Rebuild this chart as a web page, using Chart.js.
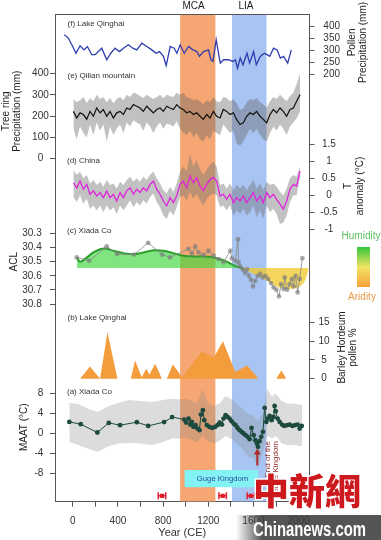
<!DOCTYPE html>
<html>
<head>
<meta charset="utf-8">
<title>Climate records</title>
<script src="https://cdn.jsdelivr.net/npm/chart.js@4.4.0/dist/chart.umd.min.js"></script>
<style>
html,body{margin:0;padding:0;background:#ffffff;overflow:hidden;}
canvas{display:block;}
</style>
</head>
<body>
<canvas id="chart" width="381" height="540"></canvas>
<script>
// ---------------- data ----------------
const mcaSpan = [950, 1265];
const liaSpan = [1410, 1717];

// (f) Lake Qinghai pollen precipitation (mm)
const pollenYears = [-74,-39,0,29,65,100,130,168,198,227,257,301,337,375,413,449,493,532,567,612,656,700,738,768,803,827,863,898,922,951,987,1025,1064,1099,1122,1158,1202,1223,1241,1270,1306,1335,1379,1418,1439,1459,1483,1507,1543,1566,1601,1625,1660,1696,1720,1743,1778,1809,1838,1867,1903,1935];
const pollenPrecip = [366,352,317,289,320,303,317,283,283,296,310,262,289,310,296,310,324,310,303,331,317,303,289,296,276,238,317,310,289,324,289,317,303,296,276,296,303,262,255,345,248,262,262,255,262,227,269,241,289,248,296,241,276,289,283,276,310,303,269,276,248,303];

// shared year grid for (e) and (d)
const recordYears = [6,35,65,94,124,153,183,212,242,271,301,330,360,389,419,448,478,507,537,566,596,625,655,684,714,743,773,802,832,861,891,920,950,979,1009,1038,1068,1097,1127,1156,1186,1215,1245,1274,1304,1333,1363,1392,1422,1451,1481,1510,1540,1569,1599,1628,1658,1687,1717,1746,1776,1805,1835,1864,1894,1923,1953,1982,2012];

// (e) Qilian mountain tree-ring precipitation (mm)
const treePrecip = [222,191,215,207,185,222,199,238,215,231,199,222,191,215,222,207,238,231,254,246,238,222,246,231,215,231,238,222,246,238,231,254,238,231,215,222,207,215,199,184,207,191,222,199,191,231,222,207,215,184,160,168,199,215,207,222,199,184,168,207,231,215,238,222,199,231,238,270,301];
const treeUpper = [280,265,275,290,260,285,270,300,280,290,265,285,260,280,290,275,300,290,310,305,295,285,300,290,280,290,300,285,300,295,290,310,300,310,290,285,275,280,270,255,275,265,290,270,265,290,285,270,280,260,230,235,265,280,275,285,265,255,240,270,290,280,300,285,270,295,310,350,400];
const treeLower = [140,90,150,120,100,160,110,170,130,160,80,150,110,140,160,120,170,150,180,170,160,130,170,150,120,150,170,140,165,160,150,175,140,120,110,130,100,120,90,80,110,90,130,120,110,160,140,120,130,70,60,80,110,140,120,140,110,90,80,120,150,130,160,140,110,150,170,190,220];

// (d) China temperature anomaly (°C)
const chinaTemp = [0.37,0.22,0.42,0.18,0.32,0.03,0.13,-0.02,0.08,-0.07,0.13,-0.07,0.03,-0.17,0.08,-0.07,0.13,0.22,0.03,0.18,0.08,0.22,0.13,0.32,0.42,0.18,0.03,-0.17,-0.31,-0.07,-0.22,-0.02,0.32,0.42,0.22,0.57,0.37,0.52,0.27,0.13,0.32,0.47,0.52,0.42,-0.02,0.03,-0.12,0.03,-0.22,-0.07,-0.17,-0.02,-0.22,-0.07,0.08,-0.17,-0.02,-0.22,0.08,-0.07,0.03,-0.12,-0.26,-0.41,-0.17,0.18,0.32,0.27,0.71];
const chinaUpper = [0.75,0.6,0.7,0.5,0.6,0.35,0.45,0.3,0.4,0.25,0.45,0.3,0.35,0.2,0.4,0.3,0.45,0.55,0.4,0.5,0.4,0.55,0.45,0.6,0.7,0.5,0.35,0.15,0.05,0.25,0.1,0.35,0.7,0.85,0.7,1.2,0.85,1.05,0.75,0.6,0.75,0.9,1.0,0.85,0.3,0.35,0.2,0.35,0.15,0.3,0.2,0.3,0.15,0.3,0.45,0.2,0.35,0.15,0.4,0.3,0.35,0.25,0.1,0.0,0.2,0.5,0.6,0.55,0.85];
const chinaLower = [-0.05,-0.2,0.0,-0.25,-0.1,-0.4,-0.3,-0.45,-0.3,-0.5,-0.3,-0.45,-0.35,-0.55,-0.3,-0.45,-0.3,-0.15,-0.35,-0.2,-0.3,-0.15,-0.25,-0.05,0.05,-0.2,-0.35,-0.6,-0.7,-0.45,-0.6,-0.35,-0.05,0.0,-0.15,0.1,-0.1,0.05,-0.15,-0.3,-0.1,0.0,0.05,0.0,-0.35,-0.3,-0.45,-0.3,-0.6,-0.45,-0.55,-0.4,-0.6,-0.5,-0.3,-0.65,-0.45,-0.7,-0.3,-0.5,-0.4,-0.55,-0.85,-0.8,-0.6,-0.2,0.0,0.0,0.55];

// (c) Xiada Co ACL
const aclYears = [35,145,300,393,543,668,792,862,1025,1055,1084,1114,1158,1202,1247,1291,1335,1395,1409,1439,1463,1468,1483,1507,1527,1543,1560,1578,1596,1616,1637,1660,1681,1705,1729,1755,1778,1802,1826,1844,1867,1876,1897,1920,1941,1956,1973,1991,2009,2033];
const aclValues = [30.47,30.494,30.393,30.446,30.45,30.367,30.45,30.47,30.41,30.442,30.393,30.435,30.453,30.423,30.458,30.482,30.505,30.423,30.477,30.494,30.341,30.506,30.534,30.557,30.58,30.552,30.6,30.627,30.675,30.635,30.6,30.587,30.611,30.6,30.622,30.651,30.682,30.698,30.745,30.658,30.693,30.611,30.698,30.658,30.622,30.675,30.6,30.717,30.622,30.475];
const aclTrendYears = [35,65,109,183,271,360,449,537,626,715,803,892,980,1069,1158,1247,1335,1424,1512,1601,1720,1838,1956,2044,2089];
const aclTrend = [30.47,30.50,30.48,30.435,30.407,30.423,30.44,30.447,30.435,30.42,30.423,30.44,30.458,30.463,30.463,30.47,30.49,30.524,30.552,30.587,30.634,30.684,30.69,30.65,30.55];
const aclBaseline = 30.545;

// (b) Lake Qinghai Barley Hordeum pollen %
const barleyYears = [65,153,242,307,396,514,552,611,650,679,730,789,833,886,936,966,1143,1247,1330,1439,1543,1645,1802,1847,1891];
const barleyPct = [0,3.26,0,12.35,0,0,4.85,0.4,2.65,1.14,3.97,0,0,3.79,1.76,0.2,7.24,5.56,9.97,1.76,3.53,0,0,2.2,0];

// (a) Xiada Co MAAT (°C)
const maatYears = [-30,71,218,319,419,567,668,809,880,987,1004,1025,1040,1055,1069,1087,1105,1122,1135,1152,1164,1188,1211,1235,1259,1282,1300,1321,1335,1353,1371,1388,1406,1424,1442,1459,1477,1495,1512,1530,1548,1566,1583,1601,1616,1631,1640,1654,1669,1684,1699,1714,1725,1743,1761,1778,1787,1796,1814,1832,1853,1873,1897,1920,1944,1968,1991,2009,2027];
const maatValues = [2.33,1.87,0.2,2.13,1.67,2.27,1.53,2.3,3.3,2.8,2.2,3.0,1.8,2.33,1.33,1.67,1.0,0.67,3.8,4.67,2.67,1.67,1.33,1.13,1.33,1.67,2.2,1.8,3.0,3.67,3.33,3.0,2.47,2.0,1.67,1.13,0.67,0.33,0.0,-0.33,-0.67,-1.13,1.13,-0.33,-1.33,-2.0,-2.67,-1.53,-0.67,0.33,5.13,2.33,3.0,3.53,2.67,3.33,5.53,4.47,3.0,2.33,1.8,1.53,1.67,1.8,1.53,1.67,1.8,1.0,1.53];
const maatEnvYears = [-30,50,130,220,300,400,500,600,700,800,880,950,1000,1050,1100,1150,1200,1250,1300,1350,1400,1450,1500,1550,1600,1640,1680,1720,1760,1800,1850,1900,1950,2000,2030];
const maatUpper = [6.1,5.9,5.0,4.3,5.3,6.1,6.7,6.5,6.3,6.7,7.0,6.8,7.0,6.5,6.0,9.0,6.0,5.5,6.0,7.5,7.0,6.0,5.0,4.0,3.5,2.5,4.0,9.0,7.5,8.0,6.5,6.0,6.0,5.8,5.8];
const maatLower = [-1.7,-2.3,-3.0,-3.7,-2.7,-2.0,-1.9,-2.0,-2.3,-1.7,-1.0,-1.0,-0.8,-1.2,-1.8,-0.5,-1.5,-2.0,-1.5,-0.5,-1.0,-2.0,-3.0,-4.5,-5.0,-6.5,-4.0,-0.5,-1.0,-0.5,-2.0,-2.3,-2.3,-2.5,-2.5];

// dating control points (year, ± error) and events
const ageYears = [790, 1327, 1577];
const ageErr = [33, 33, 33];
const gugeSpan = [988, 1643];
const gugeEndYear = [1634];

// tick labels
const xTicks = [0,200,400,600,800,1000,1200,1400,1600,1800,2000];
const xLabelTicks = [0,400,800,1200,1600,2000];
const pollenTicks = [200,250,300,350,400];
const treeTicks = [0,100,200,300,400];
const tempTicks = [-1,-0.5,0,0.5,1,1.5];
const aclTicks = [30.3,30.4,30.5,30.6,30.7,30.8];
const barleyTicks = [0,5,10,15];
const maatTicks = [-8,-4,0,4,8];

// ---------------- layout / style ----------------
const FONT = "'Liberation Sans', Arial, Helvetica, sans-serif";
Chart.defaults.font.family = FONT;
Chart.defaults.font.size = 10;
Chart.defaults.color = '#333';
const AXIS = '#555';
const X_MIN = -157, X_MAX = 2096;
const LEFT_W = 55, RIGHT_W = 71.5;

const pts = (xs, ys) => xs.map((x, i) => ({ x, y: ys[i] }));
const zeroWidth = s => { s.width = 0; };
const fixTicks = vals => s => { s.ticks = vals.map(v => ({ value: v })); };
const tickMarks = { display: true, drawOnChartArea: false, drawTicks: true, tickLength: 5, color: AXIS };

// value axes: stacked boxes along each side, each box covering one panel band
function valueAxis(position, min, max, ticks, pad, cross, reverse, weight, stackWeight) {
  const w = position === 'left' ? LEFT_W : RIGHT_W;
  return {
    type: 'linear', position, min, max, bounds: 'data', reverse: !!reverse,
    stack: 'vals', stackWeight, weight,
    afterBuildTicks: fixTicks(ticks), afterFit: s => { s.width = w; },
    grid: tickMarks,
    border: { display: true, color: AXIS, width: 1 },
    ticks: { autoSkip: false, padding: pad, crossAlign: cross, color: '#333', font: { size: 10 }, callback: v => String(v) }
  };
}
// title-only axes (zero width) stacked to place each axis title at its panel
function titleAxis(text, weight, stackWeight, padTop) {
  return {
    type: 'linear', position: 'left', display: true, stack: 'titles', stackWeight, weight,
    ticks: { display: false }, grid: { display: false }, border: { display: false },
    title: { display: !!text, text: text || '', color: '#222', font: { size: 10, lineHeight: 1.15 }, padding: { top: padTop, bottom: 0 } },
    afterFit: zeroWidth
  };
}

const bandDs = (span, color) => ({
  data: [{ x: span[0], y: 1 }, { x: span[1], y: 1 }], yAxisID: 'yBand',
  fill: 'start', backgroundColor: color, borderWidth: 0, borderColor: 'rgba(0,0,0,0)', pointRadius: 0, order: 100
});
const envDs = (xs, ys, axis, fill, color) => ({
  data: pts(xs, ys), yAxisID: axis, fill, backgroundColor: color,
  borderWidth: 0, borderColor: 'rgba(0,0,0,0)', pointRadius: 0, order: 50
});

const ageLevel = -12.5;
const errData = [];
ageYears.forEach((a, i) => {
  errData.push({ x: a - ageErr[i], y: ageLevel }, { x: a + ageErr[i], y: ageLevel }, { x: a + ageErr[i] + 1, y: null });
});
const RED = 'rgb(226,30,40)';
const EVENT = 'rgb(170,45,45)';

const datasets = [
  bandDs(mcaSpan, 'rgb(245,166,114)'),
  bandDs(liaSpan, 'rgb(168,196,242)'),
  envDs(recordYears, treeUpper, 'yE', '+1', 'rgba(100,100,100,0.4)'),
  envDs(recordYears, treeLower, 'yE', false, 'rgba(0,0,0,0)'),
  envDs(recordYears, chinaUpper, 'yD', '+1', 'rgba(120,120,120,0.45)'),
  envDs(recordYears, chinaLower, 'yD', false, 'rgba(0,0,0,0)'),
  envDs(maatEnvYears, maatUpper, 'yA', '+1', 'rgba(140,140,140,0.3)'),
  envDs(maatEnvYears, maatLower, 'yA', false, 'rgba(0,0,0,0)'),
  { // ACL smoothed trend: humid (green) / arid (yellow)
    data: pts(aclTrendYears, aclTrend), yAxisID: 'yC', tension: 0.4,
    fill: { target: { value: aclBaseline }, above: 'rgba(60,215,60,0.65)', below: 'rgba(240,200,40,0.75)' },
    borderWidth: 2, borderColor: '#2e9e2e', pointRadius: 0, order: 40,
    segment: { borderColor: c => c.p0.parsed.x < 1430 ? '#2e9e2e' : 'rgba(0,0,0,0)' }
  },
  { // Guge Kingdom period
    data: [{ x: gugeSpan[0], y: -7.3 }, { x: gugeSpan[1], y: -7.3 }], yAxisID: 'yA',
    fill: { target: { value: -10.8 } }, backgroundColor: 'rgb(130,242,242)',
    borderWidth: 0, borderColor: 'rgba(0,0,0,0)', pointRadius: 0, order: 40
  },
  { // barley pollen
    data: pts(barleyYears, barleyPct), yAxisID: 'yB', fill: 'origin', backgroundColor: 'rgb(243,156,60)',
    borderWidth: 0, borderColor: 'rgba(0,0,0,0)', pointRadius: 0, order: 40
  },
  { data: pts(pollenYears, pollenPrecip), yAxisID: 'yF', borderColor: '#2f3db0', borderWidth: 1.3, pointRadius: 0, fill: false, order: 10 },
  { data: pts(recordYears, treePrecip), yAxisID: 'yE', borderColor: '#111', borderWidth: 1.2, pointRadius: 0, fill: false, order: 10 },
  { data: pts(recordYears, chinaTemp), yAxisID: 'yD', borderColor: '#e024dc', borderWidth: 1.3, pointRadius: 0, fill: false, order: 10 },
  { data: pts(aclYears, aclValues), yAxisID: 'yC', borderColor: 'rgba(140,140,140,0.85)', borderWidth: 1,
    pointRadius: 2.4, pointBorderWidth: 0, pointBackgroundColor: 'rgba(125,125,125,0.65)', fill: false, order: 10 },
  { data: pts(maatYears, maatValues), yAxisID: 'yA', borderColor: '#1d4a3f', borderWidth: 1,
    pointRadius: 2.4, pointBorderWidth: 0, pointBackgroundColor: '#1d4a3f', fill: false, order: 10 },
  { data: errData, yAxisID: 'yA', borderColor: RED, borderWidth: 1.5, fill: false, order: 5,
    pointStyle: 'line', rotation: 90, pointRadius: 3.5, pointBorderColor: RED, pointBorderWidth: 1.5 },
  { data: ageYears.map(a => ({ x: a, y: ageLevel })), yAxisID: 'yA', showLine: false, fill: false, order: 5,
    pointStyle: 'rect', pointRadius: 3, pointBorderWidth: 0, pointBackgroundColor: RED },
  { data: [{ x: gugeEndYear[0], y: -6.4 }, { x: gugeEndYear[0], y: -3.8 }], yAxisID: 'yA', fill: false, order: 5,
    borderColor: EVENT, borderWidth: 2, pointStyle: 'triangle', pointRadius: [0, 4], pointBorderWidth: 0, pointBackgroundColor: EVENT }
];

// ---------------- annotations (text) ----------------
const notes = [
  { text: 'MCA', x: 193.5, y: 6.5, size: 10, color: '#222', align: 'center' },
  { text: 'LIA', x: 246, y: 6.5, size: 10, color: '#222', align: 'center' },
  { text: '(f) Lake Qinghai', x: 67.5, y: 23.5, size: 8, color: '#333', align: 'left' },
  { text: '(e) Qilian mountain', x: 67.5, y: 76, size: 8, color: '#333', align: 'left' },
  { text: '(d) China', x: 67, y: 161, size: 8, color: '#333', align: 'left' },
  { text: '(c) Xiada Co', x: 67, y: 231, size: 8, color: '#333', align: 'left' },
  { text: '(b) Lake Qinghai', x: 67.5, y: 318, size: 8, color: '#333', align: 'left' },
  { text: '(a) Xiada Co', x: 67, y: 392, size: 8, color: '#333', align: 'left' },
  { text: 'Humidity', x: 361, y: 236, size: 10, color: '#5cbf5c', align: 'center' },
  { text: 'Aridity', x: 362, y: 297, size: 10, color: '#ea9a46', align: 'center' },
  { text: 'Guge Kingdom', x: 222.5, y: 479, size: 7.7, color: '#2a4c9c', align: 'center' }
];
const rotNotes = [
  { text: 'End of the', x: 267.5, y: 441, size: 8, color: 'rgb(150,45,45)' },
  { text: 'Guge Kingdom', x: 276, y: 441, size: 8, color: 'rgb(150,45,45)' }
];
const notePlugin = {
  id: 'notes',
  afterDatasetsDraw(chart) {
    const ctx = chart.ctx;
    ctx.save();
    const g = ctx.createLinearGradient(0, 247, 0, 287);
    g.addColorStop(0, 'rgb(50,200,60)');
    g.addColorStop(0.5, 'rgb(240,228,100)');
    g.addColorStop(1, 'rgb(247,160,60)');
    ctx.fillStyle = g;
    ctx.fillRect(357, 247, 13, 40);
    ctx.textBaseline = 'middle';
    for (const n of notes) {
      ctx.font = n.size + 'px ' + FONT;
      ctx.fillStyle = n.color;
      ctx.textAlign = n.align;
      ctx.fillText(n.text, n.x, n.y);
    }
    for (const r of rotNotes) {
      ctx.save();
      ctx.translate(r.x, r.y);
      ctx.rotate(-Math.PI / 2);
      ctx.font = r.size + 'px ' + FONT;
      ctx.fillStyle = r.color;
      ctx.textAlign = 'right';
      ctx.textBaseline = 'middle';
      ctx.fillText(r.text, 0, 0);
      ctx.restore();
    }
    ctx.restore();
  }
};
const watermarkPlugin = {
  id: 'watermark',
  afterDraw(chart) {
    const ctx = chart.ctx;
    ctx.save();
    const g = ctx.createLinearGradient(236, 0, 262, 0);
    g.addColorStop(0, 'rgba(55,55,55,0)');
    g.addColorStop(1, 'rgba(55,55,55,0.85)');
    ctx.fillStyle = g;
    ctx.fillRect(236, 515, 145, 25);
    ctx.font = "bold 21px 'Liberation Sans Narrow', 'Liberation Sans', Arial, sans-serif";
    ctx.fillStyle = '#ffffff';
    ctx.textAlign = 'left';
    ctx.textBaseline = 'alphabetic';
    ctx.fillText('Chinanews.com', 253, 536, 113);
    ctx.font = "900 36px 'Noto Sans CJK TC', 'Noto Sans CJK SC', sans-serif";
    ctx.textBaseline = 'middle';
    ctx.lineWidth = 3;
    ctx.strokeStyle = 'rgba(255,255,255,0.9)';
    ctx.strokeText('中新網', 253, 491, 108);
    ctx.fillStyle = 'rgb(205,25,30)';
    ctx.fillText('中新網', 253, 491, 108);
    ctx.restore();
  }
};

new Chart(document.getElementById('chart'), {
  type: 'line',
  data: { datasets },
  plugins: [notePlugin, watermarkPlugin],
  options: {
    responsive: false,
    animation: false,
    events: [],
    layout: { padding: { left: 0, right: 0, top: 13.3, bottom: 0 } },
    plugins: { legend: { display: false }, tooltip: { enabled: false }, title: { display: false } },
    scales: {
      x: {
        type: 'linear', position: 'bottom', min: X_MIN, max: X_MAX, bounds: 'data',
        afterBuildTicks: fixTicks(xTicks), afterFit: s => { s.height = 38.3; },
        grid: tickMarks, border: { display: true, color: AXIS, width: 1 },
        ticks: { autoSkip: false, maxRotation: 0, padding: 9, color: '#333', font: { size: 10 },
          callback: v => xLabelTicks.includes(v) ? String(v) : '' },
        title: { display: true, text: 'Year (CE)', color: '#333', font: { size: 11 }, padding: { top: 0, bottom: 0.5 } }
      },
      xTop: {
        type: 'linear', position: 'top', min: X_MIN, max: X_MAX, display: true,
        grid: { display: false }, ticks: { display: false }, border: { display: true, color: AXIS, width: 1 },
        afterFit: s => { s.height = 0; }
      },
      // right side (top to bottom: f, d, b) — boxes 13.3-120, 120-290, 290-501.7
      yF: valueAxis('right', 6.63, 448.45, pollenTicks, 8.85, 'center', false, 1, 106.7),
      yD: valueAxis('right', -2.8147, 2.1853, tempTicks, 5.85, 'center', false, 2, 170),
      yB: valueAxis('right', -32.706, 23.403, barleyTicks, 3.95, 'center', false, 3, 211.7),
      // left side (top to bottom: e, c, a) — boxes 13.3-200, 200-370, 370-501.7
      yE: valueAxis('left', -200.94, 677.65, treeTicks, 1.2, 'center', false, 30, 186.7),
      yC: valueAxis('left', 30.0711, 31.2683, aclTicks, 8.3, 'near', true, 29, 170),
      yA: valueAxis('left', -13.68, 12.66, maatTicks, 6.7, 'near', false, 28, 131.7),
      yBand: { type: 'linear', position: 'left', display: false, min: 0, max: 1, weight: 0, afterFit: zeroWidth },
      t1: titleAxis(['Pollen', 'Precipitation (mm)'], 7, 55.4, 291.25),
      t2: titleAxis(['Tree ring', 'Precipitation (mm)'], 6, 82.6, -54.75),
      t3: titleAxis(['T', 'anomaly (°C)'], 5, 67.4, 287.75),
      t4: titleAxis('ACL', 4, 84.6, -46.75),
      t5: titleAxis(['Barley Hordeum', 'pollen %'], 3, 87.4, 281.25),
      t6: titleAxis('MAAT (°C)', 2, 72.6, -36.75),
      t7: titleAxis('', 1, 38.4, 0)
    }
  }
});
</script>
</body>
</html>
